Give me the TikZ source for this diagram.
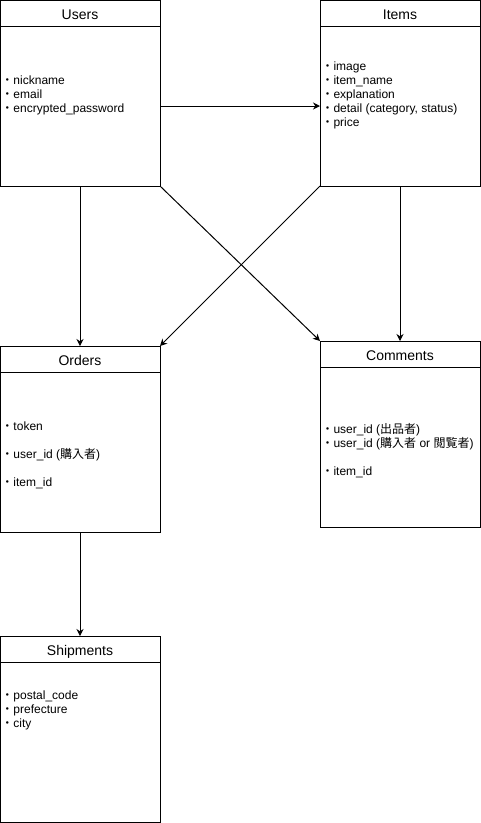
\documentclass[tikz,border=0pt]{standalone}
\usepackage{fontspec}
\setmainfont{Liberation Sans}
\newfontfamily\jp{Noto Sans CJK JP}
\usetikzlibrary{positioning,arrows.meta}
\newcommand{\itm}[1]{{\jp ・}#1}
\begin{document}
\begin{tikzpicture}[x=1pt,y=-1pt,line width=1pt]
\tikzset{head/.style={draw, rectangle, minimum width=160pt, minimum height=26pt, outer sep=0pt, inner sep=0pt, text height=12pt, text depth=0pt, font=\fontsize{14}{16}\selectfont},
  body/.style={draw, rectangle, minimum width=160pt, minimum height=160pt, outer sep=0pt},
  champs/.style={anchor=west, align=left, inner sep=0pt, font=\fontsize{12}{14}\selectfont},
  fleche/.style={-{Stealth[length=7pt,width=7pt]}}}
\useasboundingbox (0,0) rectangle (481,823);
\node[head] (users) at (80,13) {Users};
\node[body, below=0pt of users] (usersb) {};
\node[head] (items) at (400,13) {Items};
\node[body, below=0pt of items] (itemsb) {};
\node[head] (orders) at (80,359) {Orders};
\node[body, below=0pt of orders] (ordersb) {};
\node[head] (comments) at (400,354) {Comments};
\node[body, below=0pt of comments] (commentsb) {};
\node[head] (shipments) at (80,649) {Shipments};
\node[body, below=0pt of shipments] (shipmentsb) {};
\node[champs] (usersf) at (1,95.5) {\itm{nickname}\\ \itm{email}\\ \itm{encrypted\_password}};
\node[champs] (itemsf) at (321,95) {\itm{image}\\ \itm{item\_name}\\ \itm{explanation}\\ \itm{detail (category, status)}\\ \itm{price}};
\node[champs] (ordersf) at (1,455.5) {\itm{token}\\[14pt] \itm{user\_id ({\jp 購入者})}\\[14pt] \itm{item\_id}};
\node[champs] (commentsf) at (321,450.5) {\itm{user\_id ({\jp 出品者})}\\ \itm{user\_id ({\jp 購入者} or {\jp 閲覧者})}\\[14pt] \itm{item\_id}};
\node[champs] (shipmentsf) at (1,710) {\itm{postal\_code}\\ \itm{prefecture}\\ \itm{city}};
\draw[fleche] (usersb) -- (itemsb);
\draw[fleche] (usersb.south) -- (orders.north);
\draw[fleche] (usersb.south east) -- (comments.north west);
\draw[fleche] (itemsb.south west) -- (orders.north east);
\draw[fleche] (itemsb.south) -- (comments.north);
\draw[fleche] (ordersb.south) -- (shipments.north);
\end{tikzpicture}
\end{document}
